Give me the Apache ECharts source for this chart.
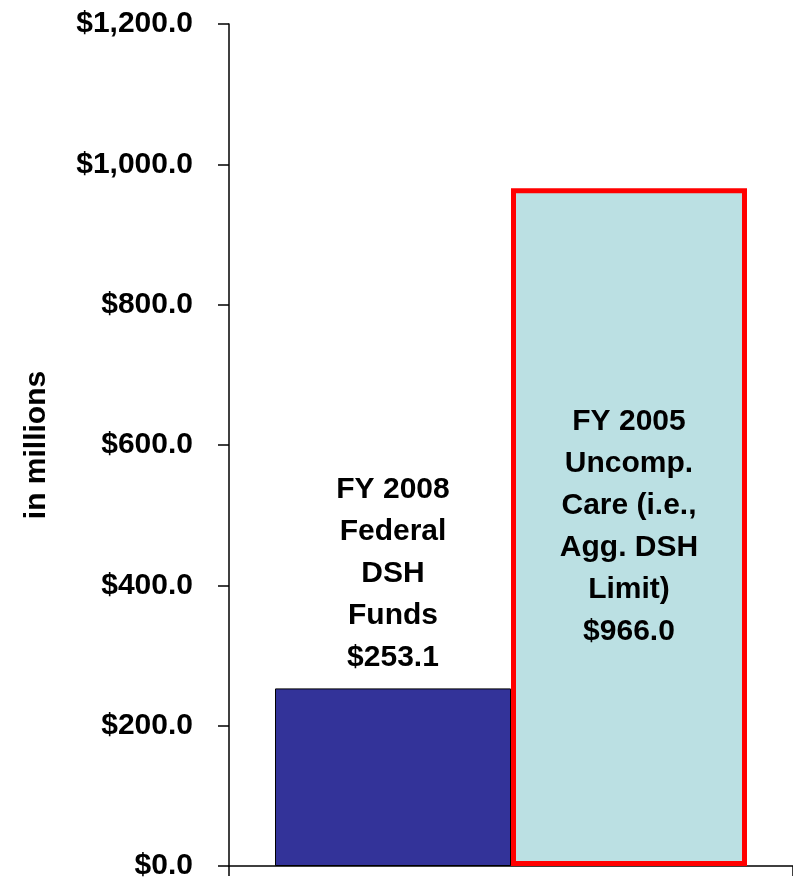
<!DOCTYPE html>
<html>
<head>
<meta charset="utf-8">
<script src="https://cdn.jsdelivr.net/npm/echarts@6/dist/echarts.min.js"></script>
<style>
html,body{margin:0;padding:0;background:#fff;}
#chart{width:793px;height:881px;}
</style>
</head>
<body>
<div id="chart"></div>
<script>
var categories = ['DSH'];
var seriesNames = ['FY 2008 Federal DSH Funds', 'FY 2005 Uncomp. Care (i.e., Agg. DSH Limit)'];
var federalFunds = [253.1];
var uncompCare = [966.0];
var federalLabel = ['FY 2008', 'Federal', 'DSH', 'Funds', '$253.1'];
var uncompLabel = ['FY 2005', 'Uncomp.', 'Care (i.e.,', 'Agg. DSH', 'Limit)', '$966.0'];
var yTicks = { min: 0, max: 1200, interval: 200 };
var yAxisName = 'in millions';

function money(v) {
  var s = v.toFixed(1);
  var parts = s.split('.');
  parts[0] = parts[0].replace(/\B(?=(\d{3})+(?!\d))/g, ',');
  return '$' + parts.join('.');
}

var font = '"Liberation Sans", Arial, sans-serif';
var chart = echarts.init(document.getElementById('chart'));
chart.setOption({
  animation: false,
  backgroundColor: '#ffffff',
  grid: { left: 229, right: 0, top: 24, bottom: 12, containLabel: false },
  xAxis: {
    type: 'category',
    data: categories,
    axisLine: { show: true, lineStyle: { color: '#000', width: 1.5 } },
    axisTick: { show: true, length: 10, lineStyle: { color: '#000', width: 1.5 } },
    axisLabel: { show: false }
  },
  yAxis: {
    type: 'value',
    min: yTicks.min,
    max: yTicks.max,
    interval: yTicks.interval,
    name: yAxisName,
    nameLocation: 'middle',
    nameRotate: 90,
    nameGap: 177,
    nameTextStyle: { fontFamily: font, fontWeight: 'bold', fontSize: 30, color: '#000' },
    axisLine: { show: true, lineStyle: { color: '#000', width: 1.5 } },
    axisTick: { show: true, length: 11, lineStyle: { color: '#000', width: 1.5 } },
    splitLine: { show: false },
    axisLabel: {
      margin: 36,
      fontFamily: font,
      fontWeight: 'bold',
      fontSize: 30,
      color: '#000',
      padding: [4, 0, 0, 0],
      formatter: function (v) { return money(v); }
    }
  },
  series: [
    {
      name: seriesNames[0],
      type: 'bar',
      data: federalFunds,
      barWidth: 236,
      barGap: '0%',
      itemStyle: { color: '#333399', borderColor: '#000', borderWidth: 1 },
      label: {
        show: true,
        position: 'top',
        distance: 10,
        formatter: function () { return federalLabel.join('\n'); },
        fontFamily: font, fontWeight: 'bold', fontSize: 30, lineHeight: 42, color: '#000', align: 'center'
      }
    },
    {
      name: seriesNames[1],
      type: 'bar',
      data: uncompCare,
      barWidth: 236,
      barGap: '0%',
      itemStyle: { color: '#BBE0E3', borderColor: '#FF0000', borderWidth: 5 },
      label: {
        show: true,
        position: 'inside',
        formatter: function () { return uncompLabel.join('\n'); },
        fontFamily: font, fontWeight: 'bold', fontSize: 30, lineHeight: 42, color: '#000', align: 'center'
      }
    }
  ]
});
</script>
</body>
</html>
